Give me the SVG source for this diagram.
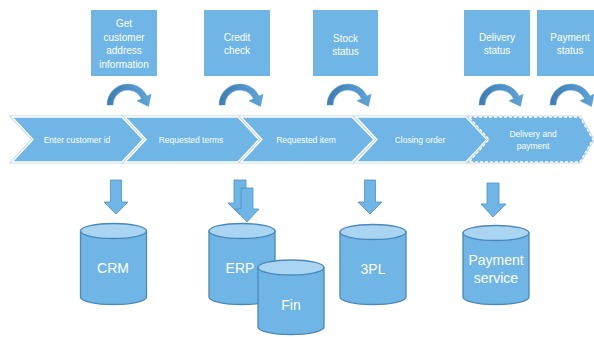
<svg xmlns="http://www.w3.org/2000/svg" width="594" height="337" viewBox="0 0 594 337">
<style>
.box{fill:#6fb6e6}
.bt{font-family:"Liberation Sans",Arial,sans-serif;font-size:10px;fill:#ffffff;text-anchor:middle}
.chev{fill:#6fb6e6;stroke:#ffffff;stroke-width:1.4;stroke-linejoin:miter}
.rim{fill:none;stroke:#c3d5e3;stroke-width:3}
.ct{font-family:"Liberation Sans",Arial,sans-serif;font-size:8.5px;fill:#ffffff;text-anchor:middle}
.cyl{fill:#6fb6e6;stroke:#4a88bb;stroke-width:1.3}
.cyltop{fill:#a9d5f2;stroke:#4a88bb;stroke-width:1.3}
.dt{font-family:"Liberation Sans",Arial,sans-serif;font-size:14px;fill:#ffffff;text-anchor:middle}
.down{fill:#6fb6e6;stroke:#4f90c6;stroke-width:0.8}
.curve{fill:url(#cg);stroke:#5a98c9;stroke-width:0.5}
</style>
<defs>
<linearGradient id="cg" x1="0" y1="0" x2="1" y2="0">
<stop offset="0" stop-color="#3b7db4"/>
<stop offset="1" stop-color="#5fa5d8"/>
</linearGradient>
<path id="carrow" d="M0 21 A21 21 0 0 1 40.03 12.12 L44.1 10.2 L41.5 22.45 L30.06 16.77 L34.59 14.66 A15 15 0 0 0 6 21 Z"/>
</defs>
<rect width="594" height="337" fill="#ffffff"/>

<g id="box-address">
<rect class="box" x="91" y="10" width="66" height="66"/>
<text class="bt" x="124" y="27">Get</text>
<text class="bt" x="124" y="40.5">customer</text>
<text class="bt" x="124" y="54">address</text>
<text class="bt" x="124" y="67.5">information</text>
</g>
<g id="box-credit">
<rect class="box" x="204" y="10" width="66" height="66"/>
<text class="bt" x="237" y="40.5">Credit</text>
<text class="bt" x="237" y="54">check</text>
</g>
<g id="box-stock">
<rect class="box" x="313" y="10" width="65" height="66"/>
<text class="bt" x="345.5" y="41.5">Stock</text>
<text class="bt" x="345.5" y="54.5">status</text>
</g>
<g id="box-delivery">
<rect class="box" x="464" y="10" width="66" height="66"/>
<text class="bt" x="497" y="40.5">Delivery</text>
<text class="bt" x="497" y="54">status</text>
</g>
<g id="box-payment">
<rect class="box" x="537" y="10" width="66" height="66"/>
<text class="bt" x="570" y="40.5">Payment</text>
<text class="bt" x="570" y="54">status</text>
</g>

<g id="step-enter">
<path class="rim" d="M12 117 L122 117 L143 139.5 L122 162 L12 162 L33 139.5 Z"/>
<path class="chev" d="M12 117 L122 117 L143 139.5 L122 162 L12 162 L33 139.5 Z"/>
<text class="ct" x="77" y="142.5">Enter customer id</text>
</g>
<g id="step-terms">
<path class="rim" d="M125 117 L238 117 L259 139.5 L238 162 L125 162 L146 139.5 Z"/>
<path class="chev" d="M125 117 L238 117 L259 139.5 L238 162 L125 162 L146 139.5 Z"/>
<text class="ct" x="191" y="142.5">Requested terms</text>
</g>
<g id="step-item">
<path class="rim" d="M241 117 L352 117 L374 139.5 L352 162 L241 162 L262 139.5 Z"/>
<path class="chev" d="M241 117 L352 117 L374 139.5 L352 162 L241 162 L262 139.5 Z"/>
<text class="ct" x="306" y="142.5">Requested item</text>
</g>
<g id="step-closing">
<path class="rim" d="M356 117 L466 117 L487 139.5 L466 162 L356 162 L377 139.5 Z"/>
<path class="chev" d="M356 117 L466 117 L487 139.5 L466 162 L356 162 L377 139.5 Z"/>
<text class="ct" x="420" y="142.5">Closing order</text>
</g>
<g id="step-delivery">
<path class="rim" d="M469 117 L580 117 L593 139.5 L580 162 L469 162 L489 139.5 Z"/>
<path class="chev" stroke-dasharray="3 2" d="M469 117 L580 117 L593 139.5 L580 162 L469 162 L489 139.5 Z"/>
<text class="ct" x="533" y="137">Delivery and</text>
<text class="ct" x="533" y="149">payment</text>
</g>

<g id="db-crm">
<path class="cyl" d="M80.5 231 L80.5 297 A33 7.5 0 0 0 146.5 297 L146.5 231 Z"/>
<ellipse class="cyltop" cx="113.5" cy="231" rx="33" ry="7.5"/>
<text class="dt" x="113" y="273">CRM</text>
</g>
<g id="db-erp">
<path class="cyl" d="M209 231 L209 297 A33 7.5 0 0 0 275 297 L275 231 Z"/>
<ellipse class="cyltop" cx="242" cy="231" rx="33" ry="7.5"/>
<text class="dt" x="240" y="273">ERP</text>
</g>
<g id="db-fin">
<path class="cyl" d="M258 267.5 L258 327 A33 7.5 0 0 0 324 327 L324 267.5 Z"/>
<ellipse class="cyltop" cx="291" cy="267.5" rx="33" ry="7.5"/>
<text class="dt" x="291" y="310">Fin</text>
</g>
<g id="db-3pl">
<path class="cyl" d="M340 232 L340 297 A33 7.5 0 0 0 406 297 L406 232 Z"/>
<ellipse class="cyltop" cx="373" cy="232" rx="33" ry="7.5"/>
<text class="dt" x="373" y="274">3PL</text>
</g>
<g id="db-payment">
<path class="cyl" d="M463 233 L463 297 A33 7.5 0 0 0 529 297 L529 233 Z"/>
<ellipse class="cyltop" cx="496" cy="233" rx="33" ry="7.5"/>
<text class="dt" x="496" y="265">Payment</text>
<text class="dt" x="496" y="283">service</text>
</g>

<g id="connectors">
<use href="#carrow" class="curve" transform="translate(107 84)"/>
<use href="#carrow" class="curve" transform="translate(219 84)"/>
<use href="#carrow" class="curve" transform="translate(327 84)"/>
<use href="#carrow" class="curve" transform="translate(479 84)"/>
<use href="#carrow" class="curve" transform="translate(550 84)"/>
<path class="down" d="M110.5 180 H121.5 V202 H128 L116 214 L104 202 H110.5 Z"/>
<path class="down" d="M234 180 H246 V203 H252 L240 215 L228 203 H234 Z"/>
<path class="down" d="M241 188 H253 V209 H259 L247 222 L235 209 H241 Z"/>
<path class="down" d="M364.5 180 H375.5 V202 H382 L370 214 L358 202 H364.5 Z"/>
<path class="down" d="M487 183 H499 V204 H506 L493 217 L481 204 H487 Z"/>
</g>
</svg>
